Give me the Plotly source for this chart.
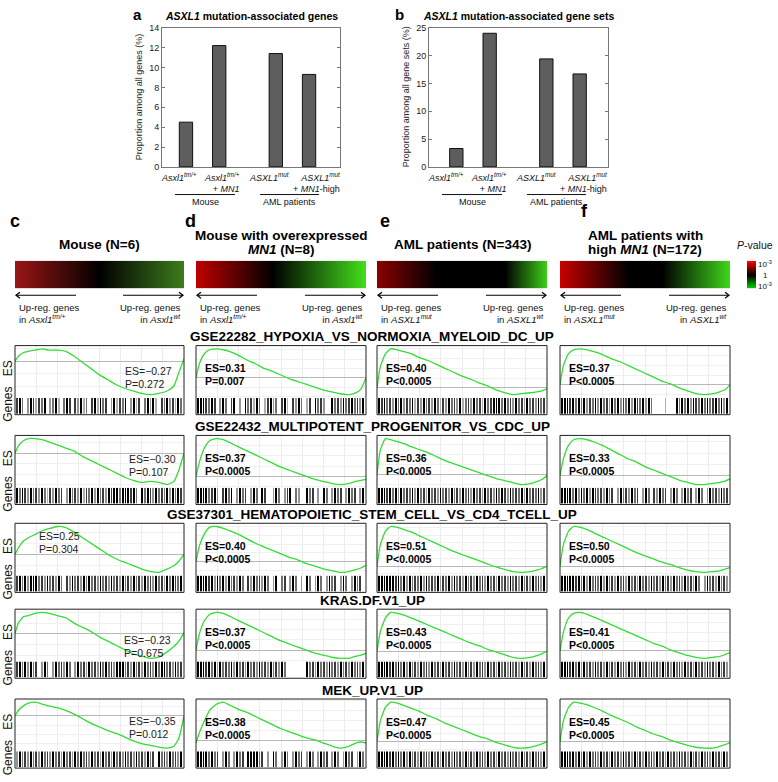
import plotly.graph_objects as go

W, H = 778, 782
FONT = "Arial, 'Liberation Sans', Helvetica, sans-serif"

# ---------------- data: panels a, b ----------------
bar_labels = [
    "<i>Asxl1</i><sup><i>tm/+</i></sup>",
    "<i>Asxl1</i><sup><i>tm/+</i></sup><br>+ <i>MN1</i>",
    "<i>ASXL1</i><sup><i>mut</i></sup>",
    "<i>ASXL1</i><sup><i>mut</i></sup><br>+ <i>MN1</i>-high",
]
group_names = ["Mouse", "AML patients"]
bar_positions = [1, 2, 3.7, 4.7]
genes_pct = [4.5, 12.2, 11.4, 9.3]
genesets_pct = [3.3, 24.0, 19.4, 16.7]

# ---------------- data: panels c-f ----------------
column_letters = ["c", "d", "e", "f"]
column_titles = [
    ["Mouse (N=6)"],
    ["Mouse with overexpressed", "<i>MN1</i> (N=8)"],
    ["AML patients (N=343)"],
    ["AML patients with", "high <i>MN1</i> (N=172)"],
]
left_labels = ["in <i>Asxl1</i><sup><i>tm/+</i></sup>"] * 2 + ["in <i>ASXL1</i><sup><i>mut</i></sup>"] * 2
right_labels = ["in <i>Asxl1</i><sup><i>wt</i></sup>"] * 2 + ["in <i>ASXL1</i><sup><i>wt</i></sup>"] * 2
gene_sets = [
    "GSE22282_HYPOXIA_VS_NORMOXIA_MYELOID_DC_UP",
    "GSE22432_MULTIPOTENT_PROGENITOR_VS_CDC_UP",
    "GSE37301_HEMATOPOIETIC_STEM_CELL_VS_CD4_TCELL_UP",
    "KRAS.DF.V1_UP",
    "MEK_UP.V1_UP",
]
es_values = [
    [-0.27, 0.31, 0.40, 0.37],
    [-0.30, 0.37, 0.36, 0.33],
    [0.25, 0.40, 0.51, 0.50],
    [-0.23, 0.37, 0.43, 0.41],
    [-0.35, 0.38, 0.47, 0.45],
]
p_texts = [
    ["=0.272", "=0.007", "<0.0005", "<0.0005"],
    ["=0.107", "<0.0005", "<0.0005", "<0.0005"],
    ["=0.304", "<0.0005", "<0.0005", "<0.0005"],
    ["=0.675", "<0.0005", "<0.0005", "<0.0005"],
    ["=0.012", "<0.0005", "<0.0005", "<0.0005"],
]

# running enrichment score, read at these rank fractions
es_x = [0, .02, .05, .08, .12, .16, .2, .25, .3, .35, .4, .45, .5, .55, .6, .65, .7, .75, .8, .85, .9, .94, .97, 1]
es_curves = [
    [
        [0, .04, .07, .08, .09, .10, .09, .09, .08, .04, -.01, -.06, -.11, -.15, -.19, -.22, -.24, -.26, -.27, -.26, -.24, -.20, -.09, .02],
        [0, .15, .26, .30, .31, .30, .28, .24, .19, .15, .10, .07, .03, -.01, -.04, -.07, -.10, -.13, -.15, -.17, -.18, -.16, -.12, 0],
        [0, .22, .35, .40, .39, .37, .35, .31, .28, .24, .20, .16, .12, .09, .05, .02, -.02, -.05, -.07, -.06, -.05, -.04, -.03, -.01],
        [0, .20, .32, .36, .37, .36, .34, .31, .27, .24, .20, .16, .12, .08, .04, .01, -.03, -.06, -.09, -.10, -.09, -.07, -.05, 0],
    ],
    [
        [0, .07, .12, .14, .14, .13, .11, .08, .05, .02, -.03, -.07, -.11, -.15, -.19, -.23, -.26, -.28, -.27, -.28, -.30, -.27, -.16, 0],
        [0, .14, .28, .35, .37, .36, .33, .29, .25, .21, .17, .13, .09, .06, .03, .0, -.03, -.05, -.07, -.08, -.07, -.05, -.04, -.03],
        [0, .25, .36, .35, .33, .31, .28, .25, .22, .18, .14, .11, .08, .05, .02, -.01, -.04, -.06, -.08, -.10, -.09, -.07, -.05, -.01],
        [0, .15, .27, .32, .33, .32, .30, .27, .23, .19, .15, .12, .08, .05, .02, -.01, -.04, -.06, -.08, -.08, -.07, -.06, -.05, -.03],
    ],
    [
        [0, .06, .12, .15, .18, .21, .23, .25, .24, .20, .15, .10, .05, .0, -.04, -.07, -.10, -.13, -.15, -.16, -.13, -.10, -.06, 0],
        [0, .18, .32, .39, .40, .38, .35, .31, .26, .21, .17, .13, .09, .05, .02, -.02, -.05, -.08, -.10, -.12, -.11, -.09, -.07, -.04],
        [0, .28, .45, .51, .50, .47, .44, .39, .34, .29, .24, .19, .15, .11, .07, .03, -.01, -.04, -.07, -.08, -.07, -.05, -.03, 0],
        [0, .27, .44, .50, .49, .46, .42, .37, .32, .27, .22, .17, .13, .09, .05, .02, -.02, -.05, -.07, -.08, -.07, -.06, -.04, -.02],
    ],
    [
        [0, .10, .16, .17, .19, .20, .19, .17, .15, .10, .06, .02, -.03, -.07, -.11, -.15, -.19, -.21, -.23, -.22, -.17, -.12, -.07, .01],
        [0, .16, .29, .35, .37, .36, .33, .29, .25, .21, .17, .13, .09, .06, .03, .0, -.03, -.05, -.07, -.08, -.08, -.06, -.05, -.03],
        [0, .22, .37, .43, .42, .40, .37, .33, .29, .25, .21, .17, .13, .09, .06, .02, -.01, -.04, -.07, -.08, -.07, -.05, -.03, 0],
        [0, .20, .35, .40, .41, .39, .36, .32, .28, .24, .20, .16, .12, .08, .05, .01, -.02, -.05, -.07, -.08, -.07, -.06, -.04, -.02],
    ],
    [
        [0, .06, .11, .14, .15, .13, .11, .09, .06, .02, -.03, -.08, -.12, -.16, -.19, -.23, -.27, -.30, -.32, -.34, -.35, -.33, -.24, 0],
        [-.02, .08, .20, .30, .36, .38, .35, .31, .28, .24, .20, .16, .12, .09, .06, .03, .01, -.02, -.05, -.07, -.05, -.02, -.01, -.02],
        [0, .25, .41, .47, .46, .43, .40, .36, .31, .27, .22, .18, .14, .10, .06, .03, -.01, -.04, -.07, -.08, -.07, -.05, -.03, 0],
        [0, .24, .39, .45, .44, .42, .39, .35, .30, .26, .22, .17, .13, .09, .06, .02, -.01, -.04, -.06, -.07, -.07, -.05, -.03, -.01],
    ],
]

# gene-set hit barcodes (0 = no hit, 9 = black hit), left->right by rank bin
barcodes = [
    ["897069858790679507980869570895978069587906958079695087968597",
     "999879806970890609785970589670895086970580978600978697897869",
     "989786979687958697869758697869578697859789997978697869786978",
     "999897979687969786979687969879697000050009797969879797897969"],
    ["979869786975869780697869587969786989979998970979869787969798",
     "999978960897906978069709800697068907600978060970697806978069",
     "999897969787969786978697869786978697869786979869787969787968",
     "999979697969878697806978697806970869780697069780697069786978"],
    ["897969997869786970869786979786978697869786978697869786979879",
     "999989697969786970869786970690780697060970697069780697069780",
     "999999897969787969787968796978697869786978697869786978697869",
     "999998979697879697869786978697869786978697869786970697869786"],
    ["897969780697069786970697869786979786999786978697869799786978",
     "999897969787969786978697869786970000000978697869786978697869",
     "999989797969786978697869786978697869786978697869786978697869",
     "999897969786978697869786978697869786978697869786978697869786"],
    ["697869786978697869786979786978697869786978697869780978697869",
     "999979780697069780999978060970697069780697069780697069780697",
     "999989797969786978697869786978697869786978697869786978697869",
     "999897979697869786978697869786978697869786978697869786978697"],
]

# ---------------- styles / layout constants ----------------
gradient_scales = [
    [[0, "#9a1515"], [0.5, "#000000"], [1, "#3d7d1c"]],
    [[0, "#c00000"], [0.45, "#000000"], [1, "#44e01a"]],
    [[0, "#8a0000"], [0.35, "#000000"], [0.75, "#000000"], [1, "#3dd01a"]],
    [[0, "#c80000"], [0.4, "#000000"], [0.6, "#000000"], [1, "#40d81a"]],
]
barcode_scale = [[0, "#ffffff"], [0.1, "#ffffff"], [0.11, "#dddddd"], [0.6, "#aaaaaa"],
                 [0.78, "#707070"], [0.89, "#3a3a3a"], [1, "#000000"]]
cols_x = [(15, 184), (196, 366), (377, 547), (560, 730)]
rows_top = [345, 436, 525, 612, 703]
ES_H, GEN_H = 53, 17
c_stat_pos = [(108, 26), (112, 24), (22, 13), (107, 31), (112, 22)]

fig = go.Figure()
layout = dict(width=W, height=H, margin=dict(l=0, r=0, t=0, b=0),
              paper_bgcolor="white", plot_bgcolor="white", showlegend=False,
              font=dict(family=FONT, color="#000"))
annotations, shapes = [], []
axis_count = [0]


def add_axes(x0, y0, x1, y1, xa, ya):
    axis_count[0] += 1
    n = axis_count[0]
    s = "" if n == 1 else str(n)
    layout["xaxis" + s] = dict(domain=[x0 / W, x1 / W], anchor="y" + s, **xa)
    layout["yaxis" + s] = dict(domain=[1 - y1 / H, 1 - y0 / H], anchor="x" + s, **ya)
    return "x" + s, "y" + s


def text(x, y, s, size, bold=False, xanchor="center", yanchor="middle", align="center",
         angle=0, color="#000"):
    if bold:
        s = "<b>" + s + "</b>"
    annotations.append(dict(x=x / W, y=1 - y / H, xref="paper", yref="paper", text=s,
                            showarrow=False, font=dict(size=size, color=color, family=FONT),
                            xanchor=xanchor, yanchor=yanchor, align=align, textangle=angle))


def line(x0, y0, x1, y1, color="#000", width=1):
    shapes.append(dict(type="line", xref="paper", yref="paper", x0=x0 / W, y0=1 - y0 / H,
                       x1=x1 / W, y1=1 - y1 / H, line=dict(color=color, width=width)))


def path(points, color="#000", width=1):
    d = "M " + " L ".join(f"{px / W:.5f},{1 - py / H:.5f}" for px, py in points)
    shapes.append(dict(type="path", xref="paper", yref="paper", path=d,
                       line=dict(color=color, width=width)))


def rect(x0, y0, x1, y1, color="#222", width=1):
    shapes.append(dict(type="rect", xref="paper", yref="paper", x0=x0 / W, y0=1 - y1 / H,
                       x1=x1 / W, y1=1 - y0 / H, line=dict(color=color, width=width),
                       fillcolor="rgba(0,0,0,0)"))


# ---------------- panels a & b ----------------
bar_panels = [
    dict(vals=genes_pct, box=(162, 23, 340, 164), xr=[0.28, 5.63], yr=[0, 14], dt=2,
         ytitle="Proportion among all genes (%)", title="<i>ASXL1</i> mutation-associated genes",
         letter="a", letter_x=137),
    dict(vals=genesets_pct, box=(429, 23, 608, 164), xr=[0.18, 5.55], yr=[0, 25], dt=5,
         ytitle="Proportion among all gene sets (%)", title="<i>ASXL1</i> mutation-associated gene sets",
         letter="b", letter_x=399),
]
label_offsets = [17, 60, 107, 154]
group_spans = [(13, 73), (98, 157)]
for bp in bar_panels:
    x0, y0, x1, y1 = bp["box"]
    xr, yr = add_axes(x0, y0, x1, y1,
                      dict(range=bp["xr"], showline=True, mirror=True, linecolor="#777",
                           linewidth=1, showticklabels=False, ticks="", showgrid=False,
                           zeroline=False, fixedrange=True),
                      dict(range=bp["yr"], dtick=bp["dt"], showline=True, mirror="ticks",
                           linecolor="#777", linewidth=1, ticks="inside", ticklen=3,
                           tickcolor="#777", tickfont=dict(size=9, color="#222"),
                           showgrid=False, zeroline=False, fixedrange=True))
    fig.add_trace(go.Bar(x=bar_positions, y=bp["vals"], width=0.4, xaxis=xr, yaxis=yr,
                         marker=dict(color="#5e5e5e", line=dict(color="#111", width=1))))
    text((x0 + x1) / 2, 11, bp["title"], 10.5, bold=True)
    text(bp["letter_x"], 10, bp["letter"], 15, bold=True)
    text(x0 - 23, (y0 + y1) / 2, bp["ytitle"], 9, angle=-90, color="#222")
    for off, lab in zip(label_offsets, bar_labels):
        text(x0 + off, 166, lab, 9, xanchor="center", yanchor="top", align="right", color="#111")
    for (g0, g1), name in zip(group_spans, group_names):
        line(x0 + g0, 192, x0 + g1, 192, color="#111", width=1)
        text(x0 + (g0 + g1) / 2, 200, name, 9, color="#111")

# ---------------- column headers ----------------
letter_pos = [(15, 219), (190, 219), (385, 219), (584, 209)]
for ci, (L, R) in enumerate(cols_x):
    cx = (L + R) / 2
    lx, ly = letter_pos[ci]
    text(lx, ly, column_letters[ci], 18, bold=True)
    t = column_titles[ci]
    if len(t) == 1:
        text(cx, 243, t[0], 13.5, bold=True)
    else:
        text(cx, 233, t[0], 13.5, bold=True)
        text(cx, 248, t[1], 13.5, bold=True)
    # gradient bar
    xr, yr = add_axes(L, 259, R, 287,
                      dict(range=[0, 1], visible=False, fixedrange=True),
                      dict(range=[0, 1], visible=False, fixedrange=True))
    fig.add_trace(go.Heatmap(z=[[0, 1], [0, 1]], x=[0, 1], y=[0, 1], zmin=0, zmax=1,
                             colorscale=gradient_scales[ci], zsmooth="best", showscale=False,
                             hoverinfo="skip", xaxis=xr, yaxis=yr))
    # arrows
    ay = 294
    line(L + 1, ay, L + 61, ay, width=1.2)
    path([(L + 5, ay - 3), (L + 1, ay), (L + 5, ay + 3)], width=1.2)
    line(R - 61, ay, R - 1, ay, width=1.2)
    path([(R - 5, ay - 3), (R - 1, ay), (R - 5, ay + 3)], width=1.2)
    text(L + 2, 299, "Up-reg. genes<br>" + left_labels[ci], 9.5, xanchor="left",
         yanchor="top", align="left", color="#111")
    text(R - 1, 299, "Up-reg. genes<br>" + right_labels[ci], 9.5, xanchor="right",
         yanchor="top", align="right", color="#111")

# P-value colour key
xr, yr = add_axes(747, 259, 756, 287,
                  dict(range=[0, 1], visible=False, fixedrange=True),
                  dict(range=[0, 1], visible=False, fixedrange=True))
fig.add_trace(go.Heatmap(z=[[0, 0], [1, 1]], x=[0, 1], y=[0, 1], zmin=0, zmax=1,
                         colorscale=[[0, "#00e000"], [0.5, "#000000"], [1, "#ff0000"]],
                         zsmooth="best", showscale=False, hoverinfo="skip", xaxis=xr, yaxis=yr))
text(755, 243, "<i>P</i>-value", 10.5, color="#111")
text(765, 262, "10<sup>-3</sup>", 8, color="#111")
text(765, 274, "1", 8, color="#111")
text(765, 285, "10<sup>-3</sup>", 8, color="#111")

# ---------------- GSEA panels ----------------
for ri, top in enumerate(rows_top):
    text(372, top - 9, gene_sets[ri], 13.5, bold=True)
    text(8, top + 23, "ES", 12, angle=-90, color="#111")
    text(8, top + 60, "Genes", 12, angle=-90, color="#111")
    for ci, (L, R) in enumerate(cols_x):
        ys = es_curves[ri][ci]
        lo, hi = min(ys), max(ys)
        pad = (hi - lo) * 0.07
        xr, yr = add_axes(L, top, R, top + ES_H,
                          dict(range=[0, 1], dtick=0.125, showgrid=True, gridcolor="#ececec",
                               gridwidth=1, showticklabels=False, ticks="", zeroline=False,
                               showline=False, fixedrange=True),
                          dict(range=[lo - pad, hi + pad], dtick=0.1, showgrid=True,
                               gridcolor="#f0f0f0", showticklabels=False, ticks="",
                               zeroline=True, zerolinecolor="#b8b8b8", zerolinewidth=1,
                               showline=False, fixedrange=True))
        fig.add_trace(go.Scatter(x=es_x, y=ys, mode="lines", xaxis=xr, yaxis=yr,
                                 line=dict(color="#33dd33", width=1.3, shape="spline",
                                           smoothing=0.5), hoverinfo="skip"))
        code = barcodes[ri][ci]
        z = [[int(ch) for ch in code]]
        xr, yr = add_axes(L + 1, top + ES_H, R - 1, top + ES_H + GEN_H - 1,
                          dict(range=[-0.5, len(code) - 0.5], visible=False, fixedrange=True),
                          dict(range=[-0.5, 0.5], visible=False, fixedrange=True))
        fig.add_trace(go.Heatmap(z=z, zmin=0, zmax=9, colorscale=barcode_scale, xgap=1,
                                 showscale=False, hoverinfo="skip", xaxis=xr, yaxis=yr))
        rect(L, top, R, top + ES_H + GEN_H)
        # statistics text
        es = es_values[ri][ci]
        es_txt = ("ES=\u2212%.2f" % abs(es)) if es < 0 else ("ES=%.2f" % es)
        p_txt = "P" + p_texts[ri][ci]
        if ci == 0:
            dx, dy = c_stat_pos[ri]
            text(L + dx, top + dy, es_txt, 10.5, xanchor="left", color="#222")
            text(L + dx, top + dy + 13, p_txt, 10.5, xanchor="left", color="#222")
        else:
            text(L + 7, top + 23, es_txt, 10.5, bold=True, xanchor="left")
            text(L + 7, top + 36, p_txt, 10.5, bold=True, xanchor="left")

layout["annotations"] = annotations
layout["shapes"] = shapes
fig.update_layout(**layout)
fig.write_html("out.html", config={"displayModeBar": False},
               post_script="document.body.style.margin='0';document.body.style.overflow='hidden';")
